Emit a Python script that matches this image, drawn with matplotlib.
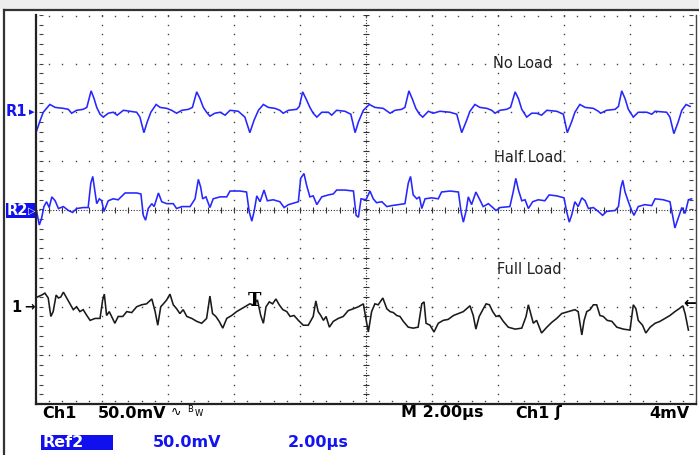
import numpy as np
import matplotlib.pyplot as plt
from matplotlib.patches import Rectangle

# scope settings
volts_per_div = 50.0   # mV/div
time_per_div = 2.0     # us/div
n_xdiv, n_ydiv = 10, 8

# trace offsets (divisions)
offset_noload = 2.0
offset_half = 0.0
offset_full = -2.0

# (time us, mV)
noload = [(0.02,-19),(0.12,-9),(0.22,0),(0.42,8),(0.58,5),(0.83,4),(0.98,3),(1.08,-1),(1.23,2),(1.43,3),
          (1.54,5),(1.67,22),(1.76,14),(1.84,5),(1.94,-2),(2.04,-5),(2.19,-1),(2.34,0),(2.46,-3),(2.65,2),
          (2.85,1),(3.05,0),(3.15,-5),(3.27,-21),(3.37,-10),(3.48,0),(3.64,8),(3.76,5),(3.96,4),(4.11,2),
          (4.26,-1),(4.42,2),(4.62,3),(4.74,5),(4.87,21),(4.97,14),(5.07,5),(5.17,0),(5.27,-4),(5.42,-1),
          (5.58,0),(5.73,-3),(5.88,2),(6.13,1),(6.33,-5),(6.48,-21),(6.61,-8),(6.74,2),(6.89,8),(7.04,5),
          (7.24,4),(7.39,2),(7.49,-1),(7.65,2),(7.90,3),(7.98,6),(8.08,21),(8.18,14),(8.30,5),(8.40,-1),
          (8.51,-5),(8.66,0),(8.86,0),(8.96,-3),(9.11,2),(9.36,1),(9.54,-2),(9.67,-21),(9.77,-10),(9.92,2),
          (10.10,8),(10.27,5),(10.52,4),(10.73,-1),(10.88,2),(11.08,3),(11.18,5),(11.30,22),(11.40,14),(11.51,4),
          (11.62,-2),(11.72,-5),(11.89,1),(12.04,-1),(12.24,1),(12.55,0),(12.75,-2),(12.90,-21),(13.03,-10),(13.15,1),
          (13.30,8),(13.45,5),(13.66,4),(13.81,2),(13.91,-1),(14.06,2),(14.26,3),(14.38,5),(14.52,21),(14.62,14),
          (14.72,3),(14.87,-5),(15.02,-1),(15.17,-1),(15.32,-3),(15.48,2),(15.78,1),(15.98,-2),(16.10,-21),(16.23,-10),
          (16.33,0),(16.48,8),(16.64,5),(16.89,4),(17.04,1),(17.11,-1),(17.29,2),(17.55,3),(17.65,6),(17.75,22),
          (17.85,14),(17.95,3),(18.10,-5),(18.25,0),(18.51,0),(18.66,-2),(18.76,1),(19.11,0),(19.21,-5),(19.33,-22),
          (19.46,-10),(19.57,2),(19.70,8),(19.82,6)]

halfload = [(0.02,-2),(0.10,-16),(0.17,-9),(0.24,3),(0.32,8),(0.40,2),(0.48,13),(0.58,9),(0.68,1),(0.83,3),
            (0.98,-1),(1.11,-3),(1.23,1),(1.43,2),(1.58,2),(1.66,27),(1.72,34),(1.79,18),(1.84,6),(1.92,11),
            (1.99,9),(2.06,-2),(2.19,9),(2.34,11),(2.49,10),(2.70,17),(2.85,17),(3.05,17),(3.18,16),(3.25,-6),
            (3.32,-11),(3.40,1),(3.51,6),(3.58,3),(3.71,17),(3.81,8),(3.96,6),(4.16,6),(4.26,1),(4.42,3),
            (4.67,3),(4.82,11),(4.92,31),(4.99,23),(5.05,11),(5.15,13),(5.27,2),(5.37,11),(5.58,13),(5.78,13),
            (5.88,19),(6.18,19),(6.38,18),(6.46,-2),(6.54,-12),(6.61,-2),(6.69,14),(6.79,8),(6.91,20),(7.01,9),
            (7.19,10),(7.39,8),(7.52,2),(7.65,5),(7.95,8),(8.02,32),(8.12,37),(8.20,25),(8.30,13),(8.40,14),
            (8.51,5),(8.66,13),(8.86,15),(9.01,16),(9.11,20),(9.36,20),(9.62,19),(9.70,-6),(9.77,-8),(9.85,11),
            (10.00,10),(10.12,19),(10.22,11),(10.32,7),(10.48,8),(10.63,3),(10.78,4),(10.98,5),(11.18,6),(11.28,27),
            (11.35,34),(11.43,15),(11.54,11),(11.62,13),(11.69,1),(11.79,11),(11.99,12),(12.19,11),(12.29,18),(12.55,19),
            (12.80,18),(12.88,-2),(12.95,-13),(13.03,-2),(13.10,13),(13.20,5),(13.33,18),(13.45,10),(13.55,3),(13.71,6),
            (13.81,3),(13.94,-1),(14.06,2),(14.36,3),(14.46,18),(14.54,32),(14.62,20),(14.72,9),(14.82,10),(14.92,1),
            (15.05,8),(15.22,10),(15.42,9),(15.55,15),(15.78,14),(16.00,12),(16.08,-2),(16.16,-13),(16.23,-6),(16.33,8),
            (16.43,3),(16.54,12),(16.64,9),(16.74,1),(16.89,2),(17.04,-2),(17.17,-6),(17.29,-2),(17.55,-1),(17.65,3),
            (17.72,22),(17.78,30),(17.85,18),(17.95,8),(18.05,-1),(18.12,-6),(18.25,3),(18.45,5),(18.66,4),(18.76,11),
            (19.01,10),(19.21,8),(19.29,-6),(19.36,-19),(19.46,-9),(19.57,2),(19.67,-4),(19.77,10),(19.87,11)]

fullload = [(0.04,10),(0.17,12),(0.27,14),(0.37,9),(0.45,-10),(0.52,-5),(0.61,12),(0.68,9),(0.75,10),(0.83,15),
            (0.93,9),(1.05,2),(1.13,-3),(1.23,0),(1.33,-5),(1.43,-3),(1.54,-9),(1.64,-14),(1.79,-12),(1.94,-12),
            (2.02,7),(2.07,13),(2.14,-9),(2.22,-5),(2.29,-10),(2.39,-17),(2.49,-10),(2.63,-10),(2.75,-5),(2.90,-6),
            (3.05,0),(3.20,2),(3.35,3),(3.51,8),(3.61,-5),(3.69,-19),(3.78,0),(3.86,3),(3.96,7),(4.06,13),
            (4.16,2),(4.26,-2),(4.36,-7),(4.46,-3),(4.57,-10),(4.72,-12),(4.87,-15),(5.02,-17),(5.17,-12),(5.27,11),
            (5.35,-7),(5.45,-10),(5.55,-15),(5.66,-22),(5.78,-12),(5.93,-9),(6.08,-5),(6.23,-2),(6.38,1),(6.48,3),
            (6.58,2),(6.71,7),(6.81,-9),(6.89,-17),(6.97,0),(7.07,5),(7.17,3),(7.27,8),(7.37,2),(7.48,-3),
            (7.60,-5),(7.70,-10),(7.82,-9),(7.95,-14),(8.10,-19),(8.25,-19),(8.40,-10),(8.48,6),(8.55,-5),(8.63,-9),
            (8.71,-14),(8.79,-10),(8.89,-21),(9.01,-15),(9.16,-12),(9.31,-10),(9.46,-4),(9.62,-2),(9.77,0),(9.92,3),
            (9.97,-7),(10.07,-26),(10.17,-5),(10.27,3),(10.37,2),(10.51,9),(10.63,-2),(10.73,-5),(10.83,-6),(10.93,-9),
            (11.03,-10),(11.13,-15),(11.28,-21),(11.43,-22),(11.58,-21),(11.69,3),(11.76,5),(11.82,-17),(11.94,-19),(12.06,-26),
            (12.19,-17),(12.34,-14),(12.49,-13),(12.65,-9),(12.80,-7),(12.95,-5),(13.15,1),(13.25,-9),(13.33,-23),(13.43,-10),
            (13.54,-3),(13.64,3),(13.74,2),(13.84,-5),(13.94,-10),(14.04,-9),(14.16,-15),(14.31,-21),(14.52,-23),(14.72,-22),
            (14.85,-10),(14.92,2),(14.99,-7),(15.07,-17),(15.17,-14),(15.32,-27),(15.48,-21),(15.63,-16),(15.78,-12),(15.93,-7),
            (16.13,-5),(16.33,-3),(16.43,-5),(16.54,-29),(16.61,-14),(16.69,-5),(16.79,-3),(16.89,2),(16.99,2),(17.09,-9),
            (17.19,-10),(17.31,-14),(17.45,-15),(17.60,-21),(17.80,-23),(18.00,-24),(18.10,2),(18.18,-2),(18.25,-14),(18.38,-19),
            (18.48,-27),(18.61,-21),(18.76,-17),(18.91,-15),(19.06,-12),(19.21,-9),(19.36,-5),(19.49,-2),(19.60,1),(19.67,-7),
            (19.77,-24)]

W, H = 699, 455
BLUE = '#2626ff'
TXTBLUE = '#1414f0'

fig = plt.figure(figsize=(W/100, H/100), dpi=100)

# screen frame (pixel coords)
deco = fig.add_axes([0, 0, 1, 1])
deco.set_xlim(0, W)
deco.set_ylim(H, 0)
deco.axis('off')
deco.add_patch(Rectangle((0, 0), W, 9, color='#eeeeee', lw=0))
deco.plot([4, W], [10, 10], color='#333333', lw=1.6)
deco.plot([4, 4], [10, H], color='#333333', lw=1.6)

def px(x, y):
    return x / W, 1 - y / H

ax = fig.add_axes([36/W, (H-404)/H, 660/W, 389/H])
ax.patch.set_alpha(0)
tmax = n_xdiv * time_per_div
ax.set_xlim(0, tmax)
ax.set_ylim(-n_ydiv/2, n_ydiv/2)
ax.set_xticks([]); ax.set_yticks([])
for s in ['left', 'bottom']:
    ax.spines[s].set_color('#222222'); ax.spines[s].set_linewidth(1.6)
ax.spines['right'].set_color('#444444'); ax.spines['right'].set_linewidth(1.0)
ax.spines['top'].set_visible(False)

# dotted graticule
minor_x = np.arange(0, tmax + 0.01, time_per_div / 5)
minor_y = np.arange(-4, 4.01, 0.2)
gc = '#444444'
for xm in np.arange(time_per_div, tmax, time_per_div):
    if abs(xm - tmax/2) < 1e-6:
        continue
    ax.plot(np.full_like(minor_y, xm), minor_y, ls='none', marker='s', ms=1.0, mew=0, color=gc)
for ym in [-3, -2, -1, 1, 2, 3]:
    ax.plot(minor_x, np.full_like(minor_x, ym), ls='none', marker='s', ms=1.0, mew=0, color=gc)
ax.plot(minor_x, np.full_like(minor_x, 3.98), ls='none', marker='s', ms=1.0, mew=0, color=gc)
ax.plot(minor_x, np.full_like(minor_x, -3.94), ls='none', marker='s', ms=1.0, mew=0, color=gc)
ax.plot(np.full_like(minor_y, 0.15), minor_y, ls='none', marker='_', ms=3, mew=0.8, color=gc)
ax.plot(np.full_like(minor_y, tmax - 0.15), minor_y, ls='none', marker='_', ms=3, mew=0.8, color=gc)
# centre cross
ax.axhline(0, color='#333333', lw=0.8, ls=(0, (1, 1.5)))
ax.axvline(tmax/2, color='#333333', lw=0.8, ls=(0, (1, 1.5)))
ax.plot(minor_x, np.zeros_like(minor_x), ls='none', marker='|', ms=5, mew=0.8, color='#333333')
ax.plot(np.full_like(minor_y, tmax/2), minor_y, ls='none', marker='_', ms=5, mew=0.8, color='#333333')

# traces
for data, off, col in [(noload, offset_noload, BLUE), (halfload, offset_half, BLUE), (fullload, offset_full, '#1a1a1a')]:
    t, mv = zip(*data)
    ax.plot(t, off + np.array(mv) / volts_per_div, color=col, lw=1.15, solid_joinstyle='miter')

# labels on screen
lab = dict(fontsize=10.5, color='#222222', family='DejaVu Sans', va='center')
fig.text(*px(493, 64), 'No Load', **lab)
fig.text(*px(494, 157), 'Half Load', **lab)
fig.text(*px(497, 270), 'Full Load', **lab)

# channel markers
fig.text(*px(6, 112), 'R1', fontsize=10.5, weight='bold', color=TXTBLUE, va='center')
fig.text(*px(29, 112), '\u25B8', fontsize=8, color=TXTBLUE, va='center')
deco.add_patch(Rectangle((6, 203), 30, 15, color='#1010ee', lw=0))
fig.text(*px(7, 210.5), 'R2', fontsize=10.5, weight='bold', color='white', va='center')
fig.text(*px(28, 210.5), '\u25B7', fontsize=7, color='white', va='center')
fig.text(*px(11, 307), '1', fontsize=10.5, weight='bold', color='black', va='center')
fig.text(*px(24, 307), '\u2192', fontsize=9, weight='bold', color='black', va='center')
fig.text(*px(254, 301), 'T', fontsize=13, weight='bold', family='DejaVu Serif', color='black', va='center', ha='center')
fig.text(*px(696, 303), '\u2190', fontsize=11, weight='bold', color='black', va='center', ha='right')

# status lines
st = dict(fontsize=11.5, weight='bold', va='center', family='DejaVu Sans')
fig.text(*px(42, 413), 'Ch1', color='black', **st)
fig.text(*px(98, 413), '50.0mV', color='black', **st)
fig.text(*px(171, 412), '\u223F', fontsize=9, color='black', va='center')
fig.text(*px(187, 409), 'B', fontsize=6, color='black', va='center')
fig.text(*px(195, 414), 'W', fontsize=6, color='black', va='center')
fig.text(*px(401, 413), 'M 2.00\u00b5s', color='black', **st)
fig.text(*px(515, 413), 'Ch1', color='black', **st)
fig.text(*px(555, 413), '\u0283', color='black', **st)
fig.text(*px(689, 413), '4mV', color='black', ha='right', **st)

deco.add_patch(Rectangle((41, 435), 72, 15, color='#1010ee', lw=0))
fig.text(*px(43, 442.5), 'Ref2', color='white', **st)
fig.text(*px(153, 442.5), '50.0mV', color=TXTBLUE, **st)
fig.text(*px(288, 442.5), '2.00\u00b5s', color=TXTBLUE, **st)

fig.savefig('out.png', dpi=100)
